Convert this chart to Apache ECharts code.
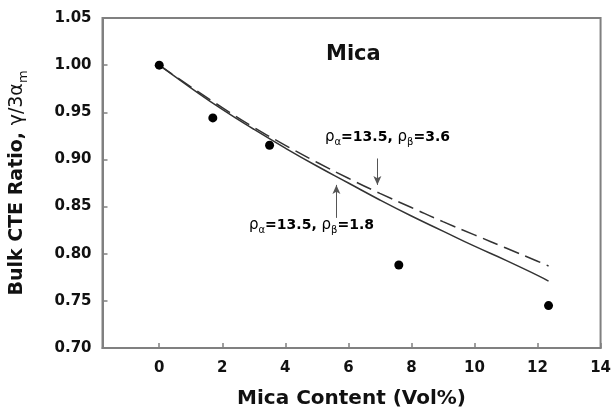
<!DOCTYPE html>
<html>
<head>
<meta charset="utf-8">
<script src="https://cdn.jsdelivr.net/npm/echarts@6/dist/echarts.min.js"></script>
<style>
  html, body { margin: 0; padding: 0; background: #fff; }
  #chart { width: 614px; height: 414px; }
</style>
</head>
<body>
<div id="chart"></div>
<script>
// measured points
var pointX = [0, 1.7, 3.5, 7.6, 12.35];
var pointY = [1.0, 0.944, 0.915, 0.788, 0.745];

// model curves
var fitX = [0, 1, 2, 3, 4, 5, 6, 7, 8, 9, 10, 11, 12, 12.35];
var solidY = [1.0, 0.976, 0.953, 0.932, 0.912, 0.893, 0.875, 0.857, 0.840, 0.824, 0.808, 0.793, 0.777, 0.771];
var dashedY = [1.0, 0.977, 0.955, 0.934, 0.915, 0.897, 0.880, 0.864, 0.849, 0.834, 0.820, 0.806, 0.792, 0.787];

var xTicks = [0, 2, 4, 6, 8, 10, 12, 14];

// annotation arrows: [x, yFrom, yTo]
var arrowDashed = [6.92, 0.901, 0.873];
var arrowSolid = [5.62, 0.838, 0.873];

function pairs(xs, ys) {
    var out = [];
    for (var i = 0; i < xs.length; i++) out.push([xs[i], ys[i]]);
    return out;
}

var FONT = 'DejaVu Sans';
var INK = '#111';
var subRich = {
    b: { fontFamily: FONT, fontWeight: 'bold', fontSize: 14, color: INK, lineHeight: 20 },
    r: { fontFamily: FONT, fontWeight: 'normal', fontSize: 15, color: INK, lineHeight: 20 },
    s: { fontFamily: FONT, fontWeight: 'normal', fontSize: 10, color: INK, lineHeight: 20, verticalAlign: 'bottom' }
};

function arrowLine(a) {
    return [{ coord: [a[0], a[1]] }, { coord: [a[0], a[2]] }];
}

var chart = echarts.init(document.getElementById('chart'));
var option = {
    animation: false,
    grid: {
        left: 102, right: 13, top: 18, bottom: 66,
        show: true, borderColor: '#808080', borderWidth: 2
    },
    xAxis: {
        type: 'value',
        min: -1.8, max: 14,
        name: 'Mica Content (Vol%)',
        nameLocation: 'middle',
        nameGap: 41,
        nameTextStyle: { fontFamily: FONT, fontWeight: 'bold', fontSize: 20, color: INK },
        axisLine: { onZero: false, lineStyle: { color: '#808080', width: 2 } },
        axisTick: { inside: true, length: 5, customValues: xTicks, lineStyle: { color: '#808080', width: 1.5 } },
        axisLabel: { customValues: xTicks, margin: 13, fontFamily: FONT, fontWeight: 'bold', fontSize: 15, color: INK },
        splitLine: { show: false }
    },
    yAxis: {
        type: 'value',
        min: 0.70, max: 1.05, interval: 0.05,
        name: '{b|Bulk CTE Ratio, }{g|γ/3α}{m|m}',
        nameLocation: 'middle',
        nameGap: 72,
        nameTextStyle: {
            rich: {
                b: { fontFamily: FONT, fontWeight: 'bold', fontSize: 19, color: INK, lineHeight: 26 },
                g: { fontFamily: FONT, fontWeight: 'normal', fontSize: 19, color: INK, lineHeight: 26 },
                m: { fontFamily: FONT, fontWeight: 'normal', fontSize: 13, color: INK, lineHeight: 26, verticalAlign: 'bottom' }
            }
        },
        axisLine: { show: true, onZero: false, lineStyle: { color: '#808080', width: 2 } },
        axisTick: { inside: true, length: 5, lineStyle: { color: '#808080', width: 1.5 } },
        axisLabel: {
            margin: 11, fontFamily: FONT, fontWeight: 'bold', fontSize: 15, color: INK,
            formatter: function (v) { return v.toFixed(2); }
        },
        splitLine: { show: false }
    },
    series: [
        {
            name: 'rho_b=1.8',
            type: 'line',
            data: pairs(fitX, solidY),
            smooth: true,
            showSymbol: false,
            lineStyle: { color: '#333', width: 1.5 },
            z: 2
        },
        {
            name: 'rho_b=3.6',
            type: 'line',
            data: pairs(fitX, dashedY),
            smooth: true,
            showSymbol: false,
            lineStyle: { color: '#333', width: 1.5, type: [16, 7] },
            z: 2
        },
        {
            name: 'data',
            type: 'scatter',
            data: pairs(pointX, pointY),
            symbolSize: 9,
            itemStyle: { color: '#000', opacity: 1 },
            z: 3,
            markLine: {
                silent: true,
                symbol: ['none', 'arrow'],
                symbolSize: [6, 9],
                label: { show: false },
                lineStyle: { color: '#555', width: 1, type: 'solid' },
                data: [arrowLine(arrowDashed), arrowLine(arrowSolid)]
            }
        }
    ],
    graphic: [
        {
            type: 'text', left: 326, top: 44,
            style: { text: 'Mica', font: 'bold 21px "DejaVu Sans"', fill: INK }
        },
        {
            type: 'text', left: 325, top: 130,
            style: { text: '{r|ρ}{s|α}{b|=13.5, }{r|ρ}{s|β}{b|=3.6}', rich: subRich }
        },
        {
            type: 'text', left: 249, top: 218,
            style: { text: '{r|ρ}{s|α}{b|=13.5, }{r|ρ}{s|β}{b|=1.8}', rich: subRich }
        }
    ]
};
chart.setOption(option);
</script>
</body>
</html>
